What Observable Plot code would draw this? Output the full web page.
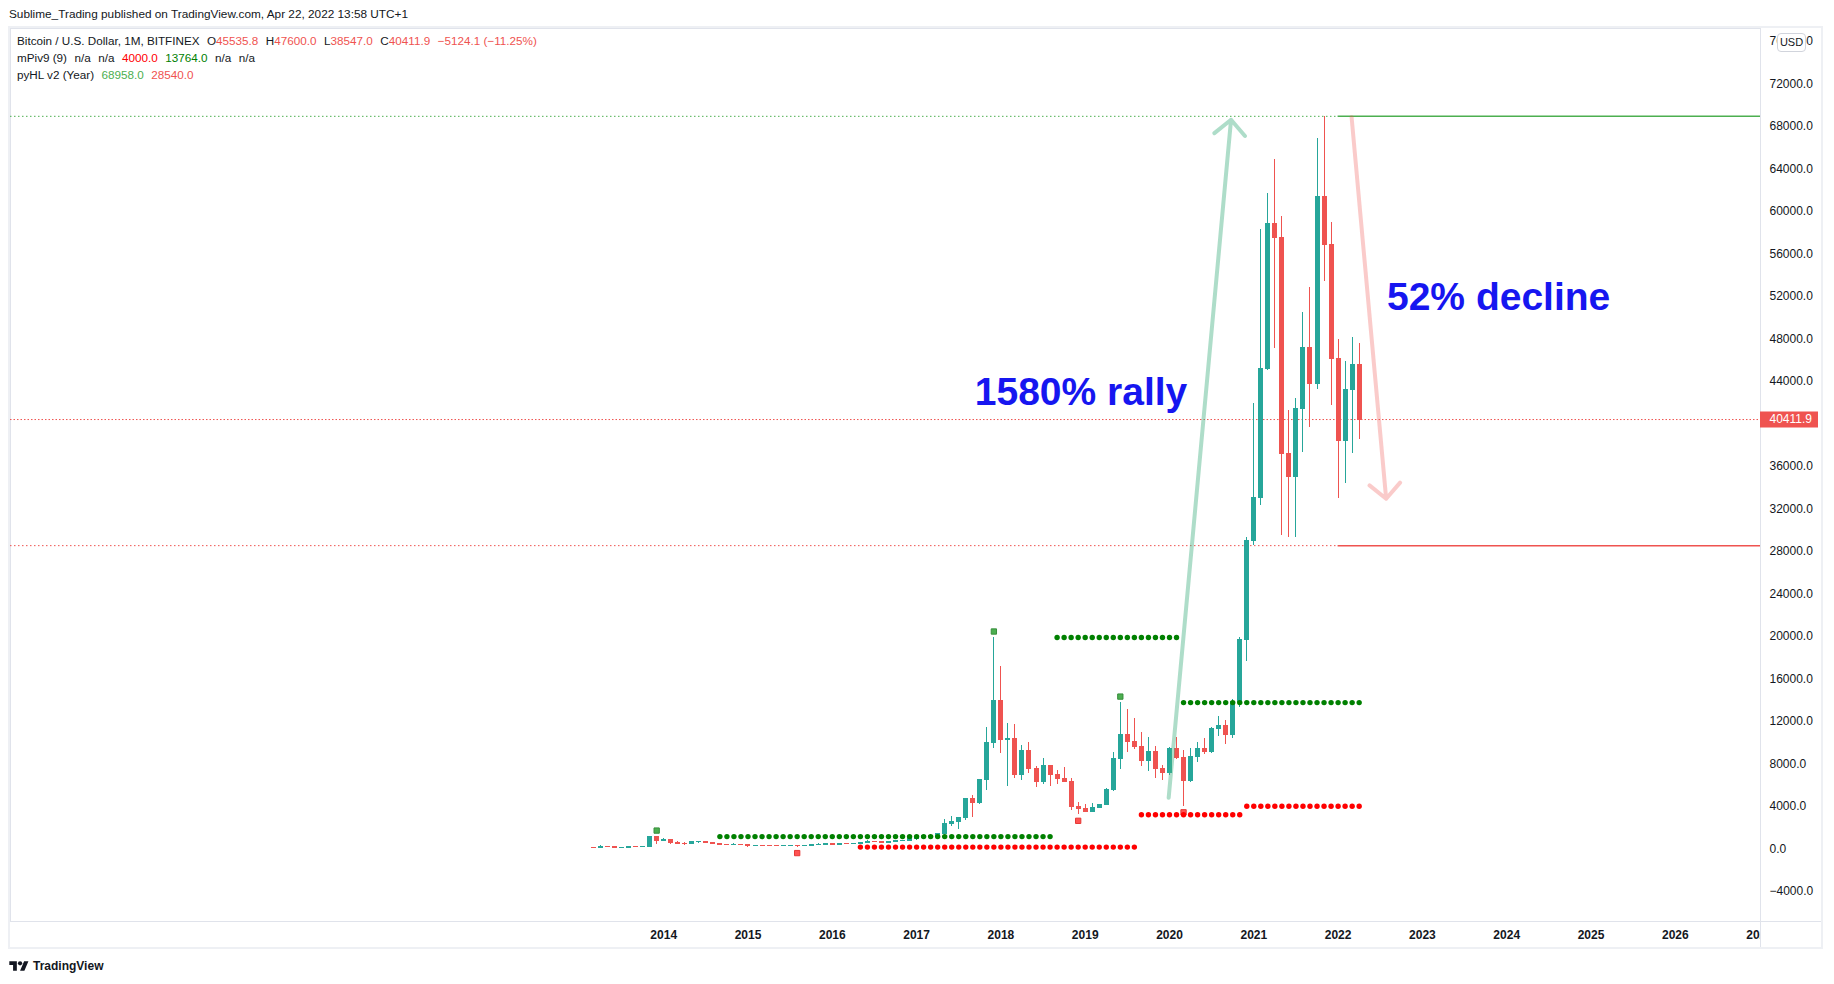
<!DOCTYPE html>
<html lang="en"><head><meta charset="utf-8"><title>Bitcoin / U.S. Dollar, 1M, BITFINEX</title>
<script src="https://cdn.jsdelivr.net/npm/d3@7"></script>
<script src="https://cdn.jsdelivr.net/npm/@observablehq/plot@0.6"></script>
<style>
html,body{margin:0;padding:0;background:#fff;}
#page{position:relative;width:1834px;height:984px;overflow:hidden;font-family:"Liberation Sans",Arial,sans-serif;color:#131722;}
#pub{position:absolute;left:9px;top:6px;font-size:11.8px;line-height:16px;white-space:nowrap;}
#box{position:absolute;left:8px;top:26px;width:1815px;height:923px;box-sizing:border-box;border:2px solid #eef0f4;}
#chart{position:absolute;left:0;top:0;}
#legend{position:absolute;left:17px;top:32px;font-size:11.7px;}
.row{display:flex;gap:7.5px;height:17px;line-height:17px;white-space:nowrap;}
.dn{color:#ef5350;}
#usd{position:absolute;left:1777px;top:33px;width:29px;height:19px;box-sizing:border-box;border:1px solid #d1d4dc;border-radius:4px;background:#fff;font-size:11px;line-height:17px;text-align:center;}
#corner{position:absolute;left:1760px;top:921px;width:61px;height:26px;box-sizing:border-box;background:#fff;border-left:1px solid #e0e3eb;border-top:1px solid #e0e3eb;}
#logo{position:absolute;left:9px;top:958px;height:16px;display:flex;align-items:center;gap:4px;font-size:12px;font-weight:bold;}
</style></head>
<body>
<div id="page">
  <div id="pub">Sublime_Trading published on TradingView.com, Apr 22, 2022 13:58 UTC+1</div>
  <div id="box"></div>
  <div id="chart"></div>
  <div id="legend">
    <div class="row"><span>Bitcoin / U.S. Dollar, 1M, BITFINEX</span><span>O<span class="dn">45535.8</span></span><span>H<span class="dn">47600.0</span></span><span>L<span class="dn">38547.0</span></span><span>C<span class="dn">40411.9</span></span><span class="dn">−5124.1 (−11.25%)</span></div>
    <div class="row"><span>mPiv9 (9)</span><span>n/a</span><span>n/a</span><span style="color:#ff0000">4000.0</span><span style="color:#008000">13764.0</span><span>n/a</span><span>n/a</span></div>
    <div class="row"><span>pyHL v2 (Year)</span><span style="color:#4caf50">68958.0</span><span style="color:#ef5350">28540.0</span></div>
  </div>
  <div id="usd">USD</div>
  <div id="corner"></div>
  <div id="logo"><svg width="20" height="14" viewBox="0 0 36 26"><path d="M14 22H7V11H0V4h14v18zM28 22h-8l7.5-18h8L28 22z" fill="#131722"/><circle cx="20" cy="8" r="4" fill="#131722"/></svg><span>TradingView</span></div>
</div>
<script>
// ---------- data ----------
const months = [
  "2013-03","2013-04","2013-05","2013-06","2013-07","2013-08","2013-09","2013-10","2013-11","2013-12",
  "2014-01","2014-02","2014-03","2014-04","2014-05","2014-06","2014-07","2014-08","2014-09","2014-10","2014-11","2014-12",
  "2015-01","2015-02","2015-03","2015-04","2015-05","2015-06","2015-07","2015-08","2015-09","2015-10","2015-11","2015-12",
  "2016-01","2016-02","2016-03","2016-04","2016-05","2016-06","2016-07","2016-08","2016-09","2016-10","2016-11","2016-12",
  "2017-01","2017-02","2017-03","2017-04","2017-05","2017-06","2017-07","2017-08","2017-09","2017-10","2017-11","2017-12",
  "2018-01","2018-02","2018-03","2018-04","2018-05","2018-06","2018-07","2018-08","2018-09","2018-10","2018-11","2018-12",
  "2019-01","2019-02","2019-03","2019-04","2019-05","2019-06","2019-07","2019-08","2019-09","2019-10","2019-11","2019-12",
  "2020-01","2020-02","2020-03","2020-04","2020-05","2020-06","2020-07","2020-08","2020-09","2020-10","2020-11","2020-12",
  "2021-01","2021-02","2021-03","2021-04","2021-05","2021-06","2021-07","2021-08","2021-09","2021-10","2021-11","2021-12",
  "2022-01","2022-02","2022-03","2022-04"
];
const open = [
  95, 92, 139, 129, 97, 106, 141, 133, 204, 1100,
  740, 830, 560, 455, 445, 625, 640, 585, 478, 386, 338, 376,
  318, 218, 254, 245, 236, 230, 263, 285, 230, 236, 314, 377,
  430, 368, 437, 416, 448, 530, 673, 624, 575, 608, 700, 745,
  966, 970, 1190, 1080, 1370, 2330, 2480, 2860, 4730, 4340, 6450, 9950,
  13880, 10230, 10330, 6930, 9240, 7500, 6270, 7750, 6950, 6600, 6300, 3950,
  3750, 3480, 3850, 4130, 5560, 8480, 10760, 10080, 9600, 8240, 9160, 7530,
  7150, 9349, 8520, 6400, 8600, 9440, 9100, 11320, 11600, 10740, 13780, 19700,
  28950, 33050, 45190, 58780, 57520, 37190, 34990, 41360, 47130, 43780, 61340, 56860,
  46130, 38370, 43150, 45535.8
];
const high = [
  100, 266, 140, 130, 110, 141, 145, 220, 1140, 1150,
  1000, 850, 700, 550, 640, 680, 660, 600, 490, 412, 460, 383,
  320, 265, 300, 260, 247, 268, 320, 285, 245, 330, 500, 465,
  462, 447, 440, 468, 550, 780, 705, 624, 612, 720, 750, 975,
  1150, 1200, 1300, 1425, 2790, 3000, 2940, 4740, 4980, 6470, 11400, 19891,
  17170, 11790, 11700, 9760, 10000, 7770, 8500, 7750, 7370, 7700, 6620, 4360,
  4140, 4265, 4200, 5700, 9066, 13764, 13114, 12267, 10949, 10478, 9631, 7842,
  9508, 10450, 9254, 9414, 9979, 10384, 11400, 12455, 12078, 14100, 19900, 29300,
  41950, 58300, 61700, 64850, 59530, 41260, 42360, 50520, 52870, 66900, 68958, 58935,
  47950, 45880, 48170, 47600
];
const low = [
  88, 50, 82, 88, 66, 100, 118, 102, 200, 430,
  740, 380, 440, 340, 420, 545, 565, 450, 360, 275, 315, 300,
  166, 210, 235, 215, 226, 220, 254, 162, 225, 236, 300, 350,
  350, 365, 395, 413, 436, 520, 605, 465, 570, 605, 690, 740,
  750, 930, 890, 1060, 1370, 2100, 1830, 2700, 2980, 4150, 5500, 9400,
  9000, 5900, 6600, 6430, 7060, 5770, 6050, 5865, 6050, 6200, 3640, 3200,
  3400, 3400, 3800, 4100, 5350, 7466, 9097, 9379, 7748, 7309, 6618, 6430,
  6900, 8400, 4000, 6213, 8153, 8878, 8941, 10600, 9848, 10412, 13274, 17600,
  28540, 32320, 45000, 47130, 29500, 29280, 29340, 37340, 39690, 43240, 53410, 41730,
  32950, 34420, 37190, 38547
];
const close = [
  92, 139, 129, 97, 106, 141, 133, 204, 1100, 740,
  830, 560, 455, 445, 625, 640, 585, 478, 386, 338, 376, 318,
  218, 254, 245, 236, 230, 263, 285, 230, 236, 314, 377, 430,
  368, 437, 416, 448, 530, 673, 624, 575, 608, 700, 745, 966,
  970, 1190, 1080, 1370, 2330, 2480, 2860, 4730, 4340, 6450, 9950, 13880,
  10230, 10330, 6930, 9240, 7500, 6270, 7750, 6950, 6600, 6300, 3950, 3750,
  3480, 3850, 4130, 5560, 8480, 10760, 10080, 9600, 8240, 9160, 7530, 7150,
  9349, 8520, 6400, 8600, 9440, 9100, 11320, 11600, 10740, 13780, 19700, 28950,
  33050, 45190, 58780, 57520, 37190, 34990, 41360, 47130, 43780, 61340, 56860, 46130,
  38370, 43150, 45535.8, 40411.9
];
const yearTicks = [2014, 2015, 2016, 2017, 2018, 2019, 2020, 2021, 2022, 2023, 2024, 2025, 2026, 2027];
const priceTicks = [-4000, 0, 4000, 8000, 12000, 16000, 20000, 24000, 28000, 32000, 36000, 40000,
  44000, 48000, 52000, 56000, 60000, 64000, 68000, 72000, 76000];
// mPiv9 pivot markers and levels
const pivotHighMonths = ["2013-12", "2017-12", "2019-06"];
const pivotLowMonths = ["2015-08", "2018-12", "2020-03"];
const pivotHighLevels = [
  {from: "2014-09", to: "2018-08", level: 1150},
  {from: "2018-09", to: "2020-02", level: 19891},
  {from: "2020-03", to: "2022-04", level: 13764}
];
const pivotLowLevels = [
  {from: "2016-05", to: "2019-08", level: 162},
  {from: "2019-09", to: "2020-11", level: 3200},
  {from: "2020-12", to: "2022-04", level: 4000}
];
// pyHL (previous year high / low)
const prevYearHigh = 68958.0;
const prevYearLow = 28540.0;
const yearStart = "2022-01";
const lastClose = 40411.9;
// drawn annotations (x in decimal years, y in USD)
const arrows = [
  {x1: 2019.99, y1: 4800, x2: 2020.73, y2: 68630, color: "#4cb488", opacity: 0.45},
  {x1: 2022.16, y1: 68876, x2: 2022.57, y2: 32950, color: "#ef5350", opacity: 0.3}
];
const notes = [
  {x: 2017.69, y: 41800, text: "1580% rally"},
  {x: 2022.58, y: 50744, text: "52% decline"}
];

// ---------- chart ----------
const UP = "#26a69a", DOWN = "#ef5350";
const t = (m) => { const [yy, mm] = m.split("-").map(Number); return yy + (mm - 1) / 12; };
const candles = months.map((m, i) => ({m, x: t(m), o: open[i], h: high[i], l: low[i], c: close[i]}));
const byMonth = new Map(candles.map((d) => [d.m, d]));
const expand = (levels) => levels.flatMap((lv) => months.filter((m) => m >= lv.from && m <= lv.to).map((m) => ({x: t(m), y: lv.level})));
const highDots = expand(pivotHighLevels);
const lowDots = expand(pivotLowLevels);
const highMarks = pivotHighMonths.map((m) => byMonth.get(m));
const lowMarks = pivotLowMonths.map((m) => byMonth.get(m));

const W = 1834, H = 984, mL = 10, mR = 74, mT = 28, mB = 63;
const xDomain = [2006.2515, 2027.0107];
const yDomain = [-6844, 77226];
const pxPerYear = (W - mL - mR) / (xDomain[1] - xDomain[0]);
const pxPerUsd = (H - mT - mB) / (yDomain[1] - yDomain[0]);
// price-scale labels hidden under the last-price badge (as on the reference)
const visibleTicks = priceTicks.filter((v) => Math.abs(v - lastClose) * pxPerUsd > 13);
const colorOf = (d) => (d.c >= d.o ? UP : DOWN);
const fmt = (v) => (v < 0 ? "\u2212" : "") + Math.abs(v).toFixed(1);

const chart = Plot.plot({
  width: W, height: H,
  marginLeft: mL, marginRight: mR, marginTop: mT, marginBottom: mB,
  x: {type: "linear", domain: xDomain},
  y: {type: "linear", domain: yDomain},
  color: {type: "identity"},
  style: {background: "transparent", fontFamily: "'Liberation Sans', Arial, sans-serif", color: "#131722"},
  marks: [
    Plot.frame({stroke: "#e0e3eb", shapeRendering: "crispEdges"}),
    // previous-year high / low
    Plot.ruleY([prevYearHigh], {x1: xDomain[0], x2: t(yearStart), stroke: "#4caf50", strokeDasharray: "1.5,2.5"}),
    Plot.ruleY([prevYearHigh], {x1: t(yearStart), x2: xDomain[1], stroke: "#4caf50", strokeWidth: 1.5}),
    Plot.ruleY([prevYearLow], {x1: xDomain[0], x2: t(yearStart), stroke: "#ef5350", strokeDasharray: "1.5,2.5"}),
    Plot.ruleY([prevYearLow], {x1: t(yearStart), x2: xDomain[1], stroke: "#ef5350", strokeWidth: 1.5}),
    // last price line
    Plot.ruleY([lastClose], {x1: xDomain[0], x2: xDomain[1], stroke: "#ef5350", strokeDasharray: "1.5,2"}),
    // candles
    Plot.ruleX(candles, {x: "x", y1: "h", y2: "l", stroke: colorOf, strokeWidth: 1, shapeRendering: "crispEdges"}),
    Plot.ruleX(candles, {x: "x", y1: (d) => Math.max(d.o, d.c), y2: (d) => Math.min(d.o, d.c), stroke: colorOf,
      strokeWidth: 5, insetTop: -0.5, insetBottom: -0.5, shapeRendering: "crispEdges"}),
    // pivot markers
    Plot.dot(highMarks, {x: "x", y: "h", dy: -6, symbol: "square", r: 3, fill: "#4caf50", stroke: "#388e3c", strokeWidth: 1}),
    Plot.dot(lowMarks, {x: "x", y: "l", dy: 6, symbol: "square", r: 3, fill: "#ff5252", stroke: "#e53935", strokeWidth: 1}),
    // pivot levels
    Plot.dot(highDots, {x: "x", y: "y", r: 2.7, fill: "#008000"}),
    Plot.dot(lowDots, {x: "x", y: "y", r: 2.7, fill: "#ff0000"}),
    // arrows
    Plot.arrow(arrows, {x1: "x1", y1: "y1", x2: "x2", y2: "y2", stroke: "color", strokeOpacity: "opacity",
      strokeWidth: 4, headLength: 8, headAngle: 92, strokeLinecap: "round", strokeLinejoin: "round"}),
    // notes
    Plot.text(notes, {x: "x", y: "y", text: "text", textAnchor: "start", lineAnchor: "bottom",
      fontSize: 39, fontWeight: "bold", fill: "#1616f0"}),
    // axes
    Plot.axisX({ticks: yearTicks, tickFormat: (d) => String(d), tickSize: 0, tickPadding: 9, fontSize: 12,
      fontWeight: "bold", fill: "#131722", label: null}),
    Plot.axisY({anchor: "right", ticks: visibleTicks, tickFormat: fmt, tickSize: 0, tickPadding: 9, textAnchor: "start",
      fontSize: 12, fill: "#131722", label: null}),
    // last price label on the price scale
    Plot.ruleY([lastClose], {x1: xDomain[1], x2: xDomain[1] + 58 / pxPerYear, stroke: "#ef5350", strokeWidth: 16}),
    Plot.text([lastClose], {x: xDomain[1], y: (d) => d, dx: 9, text: (d) => d.toFixed(1), textAnchor: "start",
      fontSize: 12, fill: "#ffffff"})
  ]
});
document.getElementById("chart").appendChild(chart);
</script>
</body></html>
